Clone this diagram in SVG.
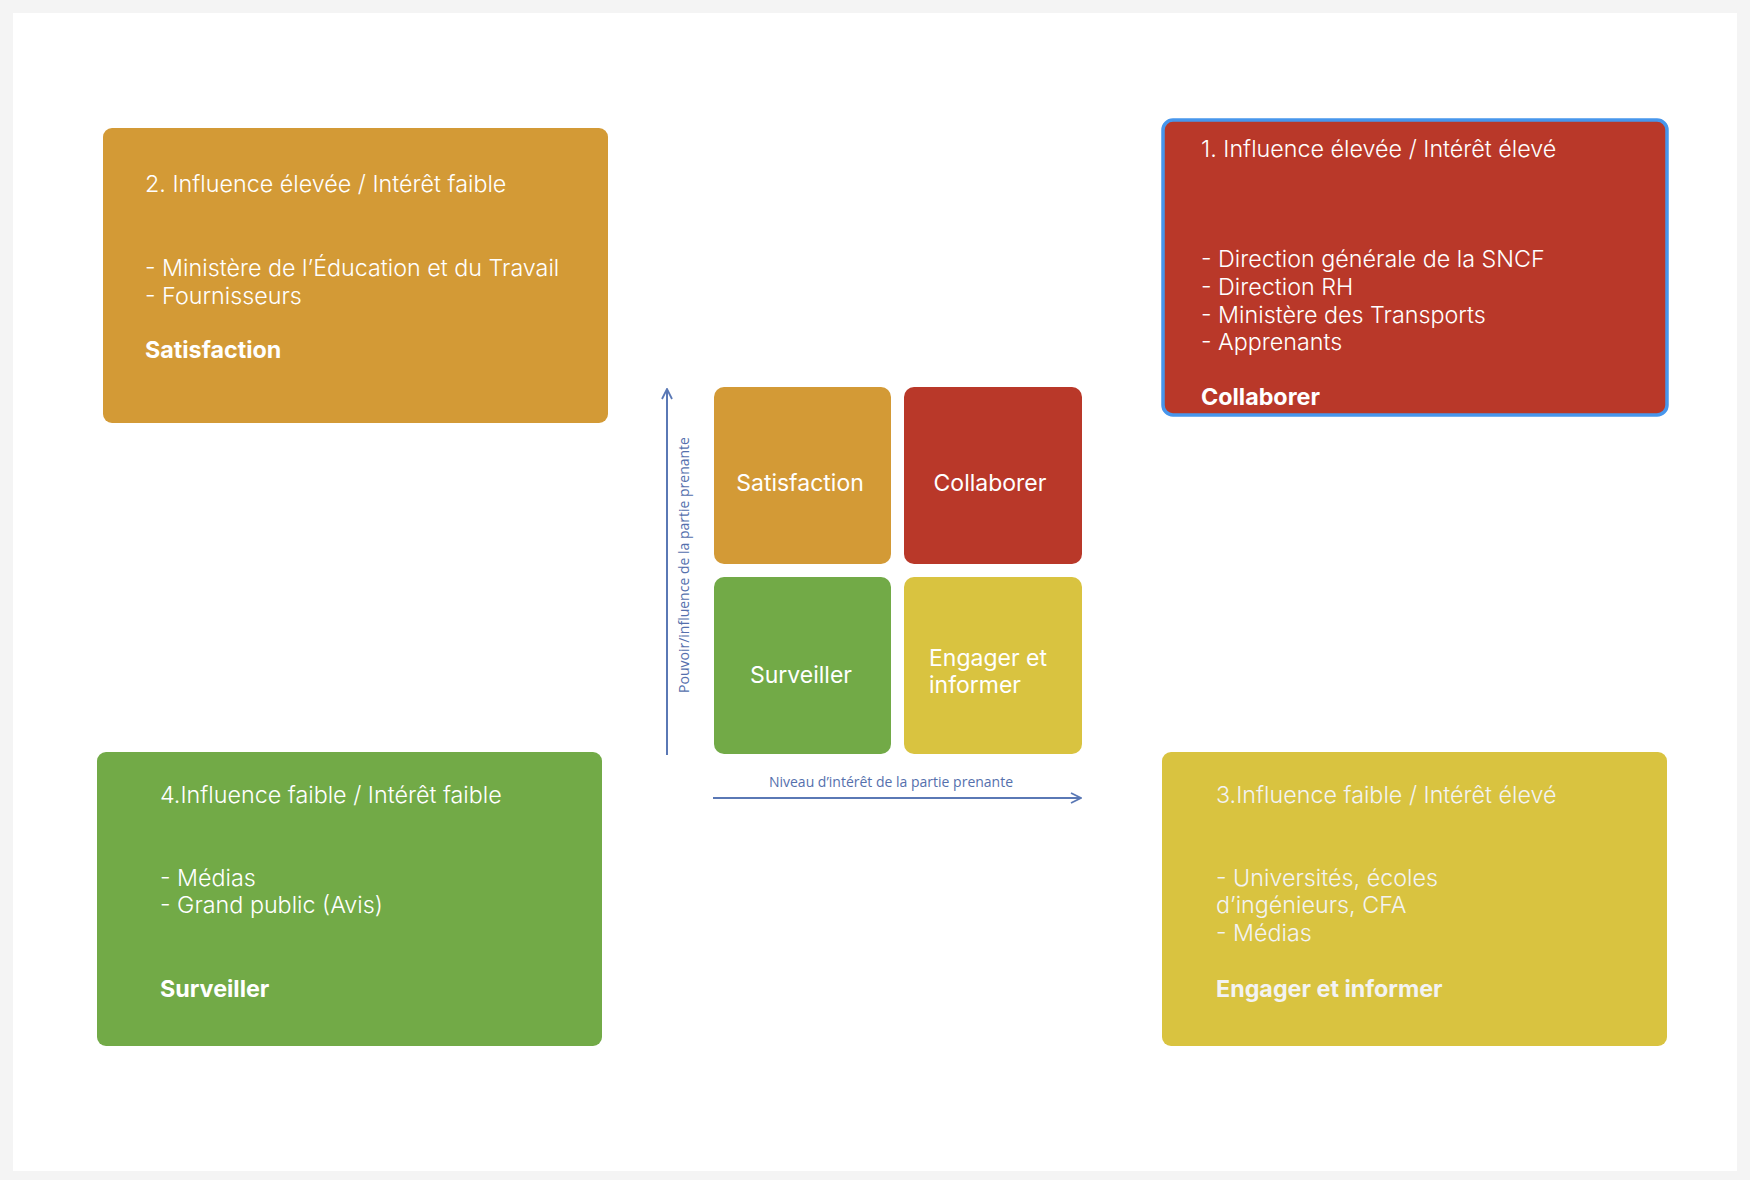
<svg xmlns="http://www.w3.org/2000/svg" width="1750" height="1180" viewBox="0 0 1750 1180">
<style>
.t{font-family:Inter,"Liberation Sans",sans-serif;font-size:23.3px;font-weight:300;fill:#ffffff}
.b{font-family:Inter,"Liberation Sans",sans-serif;font-size:23.3px;font-weight:700;fill:#ffffff}
.c{font-family:Inter,"Liberation Sans",sans-serif;font-size:23px;font-weight:400;fill:#ffffff}
.ax{font-family:"Open Sans","Liberation Sans",sans-serif;font-size:14px;font-weight:500;fill:#5570ad}
.axl{stroke:#5a78b5;stroke-width:2;fill:none}
</style>
<defs>
<marker id="arr" viewBox="0 0 12 12" refX="11" refY="6" markerWidth="12" markerHeight="12" markerUnits="userSpaceOnUse" orient="auto">
<path d="M1,1 L11,6 L1,11" fill="none" stroke="#5a78b5" stroke-width="1.8"/>
</marker>
</defs>
<rect x="0" y="0" width="1750" height="1180" fill="#f4f4f4"/>
<rect x="13" y="13" width="1724" height="1158" fill="#ffffff"/>

<g id="box2">
<rect x="103" y="128" width="505" height="295" rx="9" fill="#d39a36"/>
<text class="t" x="145" y="192">2. Influence élevée / Intérêt faible</text>
<text class="t" x="145" y="276">- Ministère de l’Éducation et du Travail</text>
<text class="t" x="145" y="304">- Fournisseurs</text>
<text class="b" x="145" y="358">Satisfaction</text>
</g>

<g id="box1">
<rect x="1163" y="120" width="504" height="295" rx="10" fill="#b93829" stroke="#4796ec" stroke-width="3.5"/>
<text class="t" x="1201" y="157">1. Influence élevée / Intérêt élevé</text>
<text class="t" x="1201" y="267">- Direction générale de la SNCF</text>
<text class="t" x="1201" y="295">- Direction RH</text>
<text class="t" x="1201" y="323">- Ministère des Transports</text>
<text class="t" x="1201" y="350">- Apprenants</text>
<text class="b" x="1201" y="405">Collaborer</text>
</g>

<g id="box4">
<rect x="97" y="752" width="505" height="294" rx="9" fill="#72aa47"/>
<text class="t" x="160" y="803">4.Influence faible / Intérêt faible</text>
<text class="t" x="160" y="886">- Médias</text>
<text class="t" x="160" y="913">- Grand public (Avis)</text>
<text class="b" x="160" y="997">Surveiller</text>
</g>

<g id="box3">
<rect x="1162" y="752" width="505" height="294" rx="9" fill="#d9c340"/>
<text class="t" x="1216" y="803" style="fill:#f3f3f3">3.Influence faible / Intérêt élevé</text>
<text class="t" x="1216" y="886" style="fill:#f3f3f3">- Universités, écoles</text>
<text class="t" x="1216" y="913" style="fill:#f3f3f3">d’ingénieurs, CFA</text>
<text class="t" x="1216" y="941" style="fill:#f3f3f3">- Médias</text>
<text class="b" x="1216" y="997" style="fill:#f3f3f3">Engager et informer</text>
</g>

<g id="q-satisfaction">
<rect x="714" y="387" width="177" height="177" rx="10" fill="#d39a36"/>
<text class="c" x="800" y="491" text-anchor="middle">Satisfaction</text>
</g>
<g id="q-collaborer">
<rect x="904" y="387" width="178" height="177" rx="10" fill="#b93829"/>
<text class="c" x="990" y="491" text-anchor="middle">Collaborer</text>
</g>
<g id="q-surveiller">
<rect x="714" y="577" width="177" height="177" rx="10" fill="#72aa47"/>
<text class="c" x="801" y="683" text-anchor="middle">Surveiller</text>
</g>
<g id="q-engager">
<rect x="904" y="577" width="178" height="177" rx="10" fill="#d9c340"/>
<text class="c" x="929" y="666">Engager et</text>
<text class="c" x="929" y="693">informer</text>
</g>

<g id="connectors">
<line class="axl" x1="667" y1="755" x2="667" y2="389" marker-end="url(#arr)"/>
<line class="axl" x1="713" y1="798" x2="1081" y2="798" marker-end="url(#arr)"/>
</g>
<text class="ax" transform="translate(689,565) rotate(-90)" text-anchor="middle">Pouvoir/influence de la partie prenante</text>
<text class="ax" x="891" y="787" text-anchor="middle">Niveau d’intérêt de la partie prenante</text>
</svg>
